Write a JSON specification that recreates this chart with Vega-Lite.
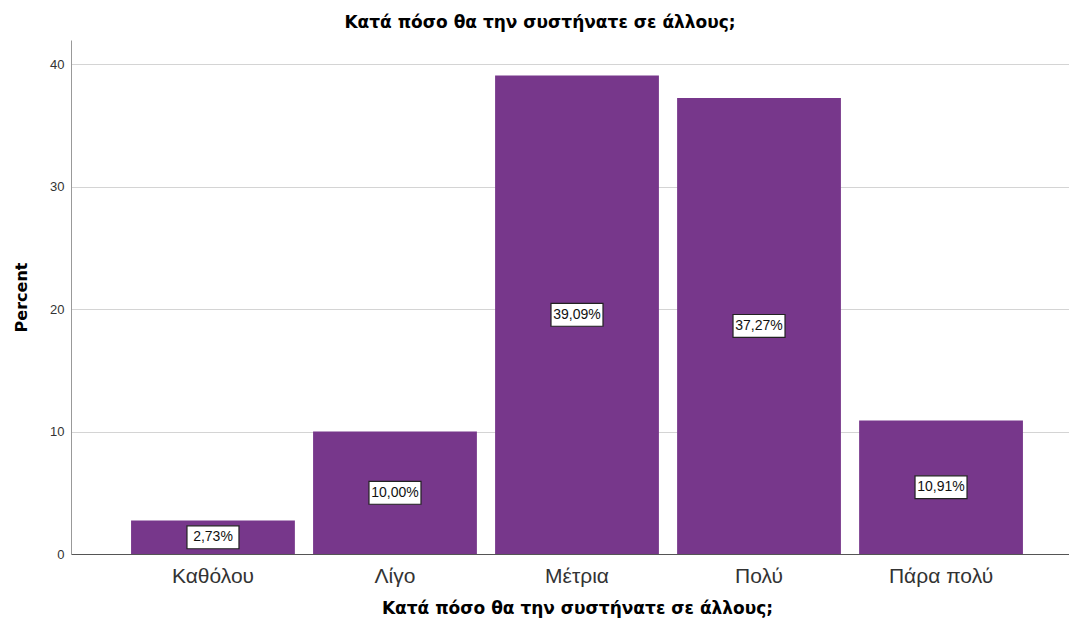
{
  "$schema": "https://vega.github.io/schema/vega-lite/v6.json",
  "width": 1012,
  "height": 514,
  "autosize": {"type": "none"},
  "padding": {"left": 71, "top": 40, "right": 0, "bottom": 74},
  "background": "white",
  "title": {
    "text": "Κατά πόσο θα την συστήνατε σε άλλους;",
    "font": "DejaVu Sans",
    "fontSize": 17,
    "fontWeight": "bold",
    "color": "#000000",
    "anchor": "middle",
    "dx": -37,
    "offset": 8
  },
  "config": {
    "view": {"stroke": null},
    "font": "Liberation Sans"
  },
  "data": {
    "values": [
      {"category": "Καθόλου", "percent": 2.73, "label": "2,73%"},
      {"category": "Λίγο", "percent": 10.00, "label": "10,00%"},
      {"category": "Μέτρια", "percent": 39.09, "label": "39,09%"},
      {"category": "Πολύ", "percent": 37.27, "label": "37,27%"},
      {"category": "Πάρα πολύ", "percent": 10.91, "label": "10,91%"}
    ]
  },
  "encoding": {
    "x": {
      "field": "category",
      "type": "nominal",
      "sort": null,
      "scale": {"paddingInner": 0.1, "paddingOuter": 0.33},
      "axis": {
        "title": "Κατά πόσο θα την συστήνατε σε άλλους;",
        "titleFont": "DejaVu Sans",
        "titleFontSize": 17,
        "titleFontWeight": "bold",
        "titleColor": "#000000",
        "titlePadding": 14,
        "labelFont": "Liberation Sans",
        "labelFontSize": 21,
        "labelColor": "#333333",
        "labelAngle": 0,
        "labelPadding": 11,
        "ticks": false,
        "domainColor": "#555555",
        "domainWidth": 1
      }
    }
  },
  "layer": [
    {
      "mark": {"type": "bar", "color": "#77378b"},
      "encoding": {
        "y": {
          "field": "percent",
          "type": "quantitative",
          "scale": {"domain": [0, 42], "nice": false},
          "axis": {
            "title": "Percent",
            "titleFont": "DejaVu Sans",
            "titleFontSize": 16,
            "titleFontWeight": "bold",
            "titleColor": "#000000",
            "titlePadding": 20,
            "values": [0, 10, 20, 30, 40],
            "labelFont": "Liberation Sans",
            "labelFontSize": 13,
            "labelColor": "#333333",
            "labelPadding": 7,
            "ticks": false,
            "grid": true,
            "gridColor": "#d4d4d4",
            "gridWidth": 1,
            "domainColor": "#999999",
            "domainWidth": 1
          }
        }
      }
    },
    {
      "encoding": {
        "y": {
          "field": "percent",
          "type": "quantitative",
          "scale": {"domain": [0, 84], "nice": false},
          "axis": null
        }
      },
      "layer": [
        {
          "mark": {
            "type": "point",
            "shape": "M-1,-0.44H1V0.44H-1Z",
            "size": 2704,
            "filled": true,
            "fill": "white",
            "stroke": "#222222",
            "strokeWidth": 1.2,
            "opacity": 1
          }
        },
        {
          "mark": {
            "type": "text",
            "font": "Liberation Sans",
            "fontSize": 14,
            "color": "#111111",
            "baseline": "middle",
            "align": "center"
          },
          "encoding": {"text": {"field": "label"}}
        }
      ]
    }
  ],
  "resolve": {"scale": {"y": "independent"}}
}
